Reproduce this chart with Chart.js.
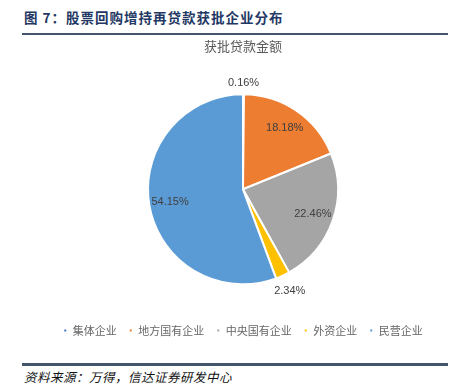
<!DOCTYPE html>
<html>
<head>
<meta charset="utf-8">
<script src="https://cdn.jsdelivr.net/npm/chart.js@4"></script>
<style>
	body {margin: 0; width: 468px; height: 387px; background: #fff; position: relative; overflow: hidden;}
	#head {position: absolute; left: 24px; top: 7px; font: bold 13.5px "Noto Sans CJK SC"; color: #1f3864; letter-spacing: 1px;}
	#lineTop {position: absolute; left: 22px; top: 33px; width: 426px; height: 2px; background: #44546a;}
	#lineBottom {position: absolute; left: 22px; top: 363px; width: 426px; height: 3px; background: #44546a;}
	#source {position: absolute; left: 24px; top: 367px; font: italic 12.5px "Noto Sans CJK SC"; color: #111; letter-spacing: 0.5px;}
	#box {position: absolute; left: 30px; top: 36px; width: 426px; height: 320px;}
</style>
</head>
<body>
<div id="head">图 7：股票回购增持再贷款获批企业分布</div>
<div id="lineTop"></div>
<div id="box"><canvas id="pieChart"></canvas></div>
<div id="lineBottom"></div>
<div id="source">资料来源：万得，信达证券研发中心</div>
<script>
// categorias y valores (%)
const categories = ["集体企业", "地方国有企业", "中央国有企业", "外资企业", "民营企业"];
const amounts = [0.16, 18.18, 22.46, 2.34, 54.15];
const colors = ["#4472c4", "#ed7d31", "#a5a5a5", "#ffc000", "#5b9bd5"];

// etiquetas de porcentaje dentro o fuera de cada sector
const pieLabels = {
	id: "pieLabels",
	afterDatasetsDraw(chart) {
		const ctx = chart.ctx;
		const meta = chart.getDatasetMeta(0);
		ctx.save();
		ctx.font = "11px 'Liberation Sans'";
		ctx.fillStyle = "#404040";
		ctx.textAlign = "center";
		ctx.textBaseline = "middle";
		meta.data.forEach((arc, i) => {
			const p = arc.getProps(["x", "y", "startAngle", "endAngle", "outerRadius"], true);
			const mid = (p.startAngle + p.endAngle) / 2;
			const text = amounts[i].toFixed(2) + "%";
			const w = ctx.measureText(text).width;
			let r;
			if (amounts[i] < 5) {
				// fuera del sector, pegado al borde
				r = p.outerRadius + 5 + Math.abs(Math.cos(mid)) * w / 2 + Math.abs(Math.sin(mid)) * 6;
			} else {
				r = p.outerRadius * 0.78;
			}
			ctx.fillText(text, p.x + Math.cos(mid) * r, p.y + Math.sin(mid) * r);
		});
		ctx.restore();
	},
};

const data = {
	labels: categories,
	datasets: [
		{
			data: amounts,
			backgroundColor: colors,
			borderColor: "#ffffff",
			borderWidth: 2,
			radius: 95,
		},
	],
};

const config = {
	type: "pie",
	data: data,
	options: {
		responsive: true,
		maintainAspectRatio: false,
		animation: false,
		layout: {padding: {bottom: 10}},
		plugins: {
			title: {
				display: true,
				text: "获批贷款金额",
				color: "#595959",
				font: {family: "'Noto Sans CJK SC'", size: 13, weight: "normal"},
				padding: {top: 2, bottom: 12},
			},
			legend: {
				position: "bottom",
				labels: {
					boxWidth: 4,
					boxHeight: 4,
					padding: 12,
					color: "#666666",
					font: {family: "'Noto Sans CJK SC'", size: 11},
				},
			},
			tooltip: {enabled: false},
		},
	},
	plugins: [pieLabels],
};
new Chart(document.getElementById("pieChart").getContext("2d"), config);
</script>
</body>
</html>
